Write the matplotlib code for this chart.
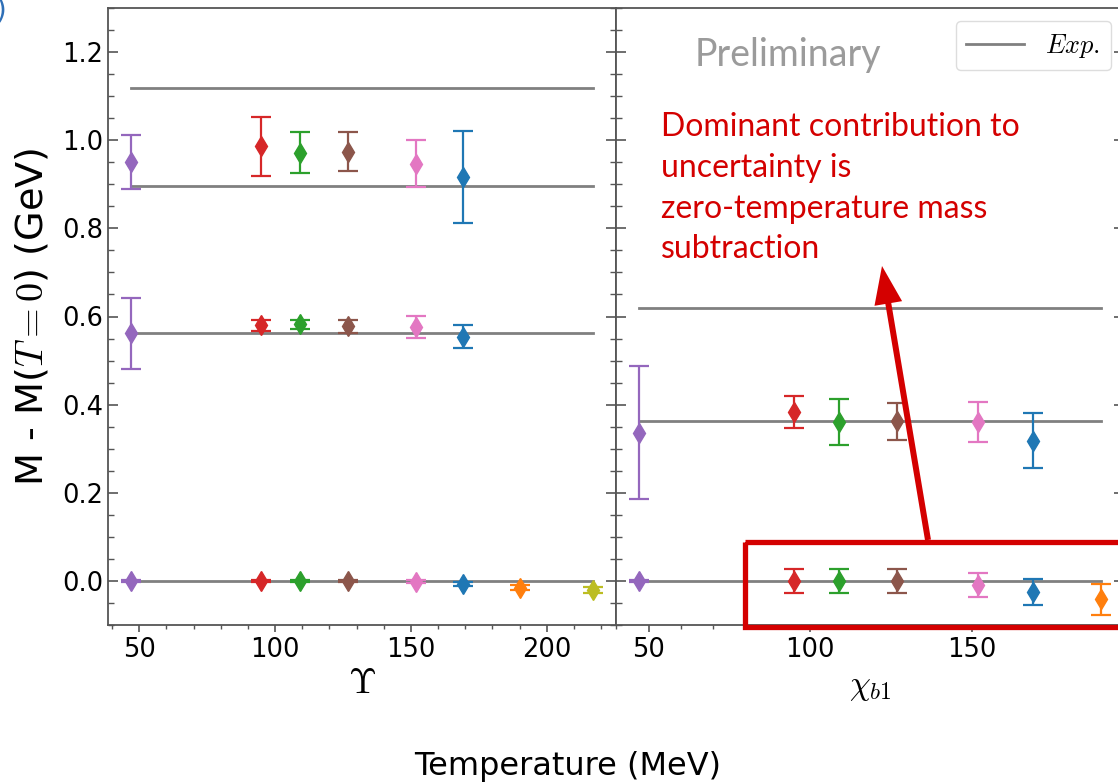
import matplotlib
matplotlib.use("Agg")
import matplotlib.pyplot as plt
from matplotlib.patches import Rectangle, FancyArrow
from matplotlib.transforms import Affine2D
from matplotlib.ticker import MultipleLocator

plt.rcParams["mathtext.fontset"] = "cm"
plt.rcParams["font.family"] = "DejaVu Sans"

# Temperatures of the ensembles (MeV) and the colour used for each
temperatures = [47, 95, 109, 127, 152, 169, 190, 217]
temp_colors = ["#9467bd", "#d62728", "#2ca02c", "#8c564b",
               "#e377c2", "#1f77b4", "#ff7f0e", "#bcbd22"]

# Upsilon channel: mass differences (GeV) with errors
ups_1S = [0.000, 0.000, 0.000, 0.000, -0.002, -0.007, -0.015, -0.020]
ups_1S_err = [0.002, 0.002, 0.002, 0.002, 0.003, 0.004, 0.005, 0.0065]
ups_2S = [0.562, 0.580, 0.582, 0.578, 0.576, 0.554]
ups_2S_err = [0.080, 0.012, 0.010, 0.015, 0.025, 0.026]
ups_3S = [0.951, 0.986, 0.972, 0.974, 0.947, 0.917]
ups_3S_err = [0.061, 0.067, 0.046, 0.044, 0.053, 0.104]
ups_exp = [0.0, 0.563, 0.895, 1.119]

# chi_b1 channel
chi_1P = [0.000, 0.000, 0.000, 0.000, -0.009, -0.025, -0.042]
chi_1P_err = [0.002, 0.028, 0.027, 0.027, 0.028, 0.030, 0.036]
chi_2P = [0.336, 0.383, 0.361, 0.362, 0.361, 0.318]
chi_2P_err = [0.151, 0.037, 0.052, 0.042, 0.046, 0.062]
chi_exp = [0.0, 0.362, 0.620]

W, H = 1118, 784
fig = plt.figure(figsize=(W / 100, H / 100), dpi=100)
px = Affine2D().scale(1 / W, -1 / H).translate(0, 1) + fig.transFigure


def fbox(x0, y0, x1, y1):
    return [x0 / W, 1 - y1 / H, (x1 - x0) / W, (y1 - y0) / H]


axL = fig.add_axes(fbox(108, 8, 616, 625))
axR = fig.add_axes(fbox(616, 8, 1124, 625), sharey=axL)

exp_color = "#808080"
spine_color = "#555555"


def draw_panel(ax, states, exp_vals):
    n_max = max(len(v) for v, _ in states)
    t_used = temperatures[:n_max]
    for i, e in enumerate(exp_vals):
        ax.plot([t_used[0], t_used[-1]], [e, e], color=exp_color, lw=2,
                zorder=1, label="$Exp.$" if i == 0 else None)
    for vals, errs in states:
        for k, (v, e) in enumerate(zip(vals, errs)):
            ax.errorbar(temperatures[k], v, yerr=e, fmt="d",
                        color=temp_colors[k], ms=10, elinewidth=1.6,
                        capsize=7, capthick=1.6, zorder=3)


draw_panel(axL, [(ups_1S, ups_1S_err), (ups_2S, ups_2S_err),
                 (ups_3S, ups_3S_err)], ups_exp)
draw_panel(axR, [(chi_1P, chi_1P_err), (chi_2P, chi_2P_err)], chi_exp)

axL.set_ylim(-0.1, 1.3)
for ax in (axL, axR):
    ax.xaxis.set_major_locator(MultipleLocator(50))
    ax.xaxis.set_minor_locator(MultipleLocator(10))
    ax.yaxis.set_major_locator(MultipleLocator(0.2))
    ax.yaxis.set_minor_locator(MultipleLocator(0.05))
    ax.tick_params(axis="y", which="both", direction="in", left=True,
                   right=True, colors=spine_color, labelcolor="black")
    ax.tick_params(axis="y", which="major", length=7, width=1.2)
    ax.tick_params(axis="y", which="minor", length=4, width=1)
    ax.tick_params(axis="x", which="major", direction="out", length=5,
                   width=1.2, colors=spine_color, labelcolor="black")
    ax.tick_params(axis="x", which="minor", direction="out", length=3,
                   width=1, colors=spine_color)
    ax.tick_params(axis="both", which="major", labelsize=18.5)
    for s in ax.spines.values():
        s.set_color(spine_color)
        s.set_linewidth(1.3)
axR.tick_params(axis="y", labelleft=False)

axL.set_xlim(38.5, 225.5)
axR.set_xlim(39.85, 197.15)

axL.set_xlabel(r"$\Upsilon$", fontsize=26, labelpad=2)
axR.set_xlabel(r"$\chi_{b1}$", fontsize=24, labelpad=5)
axL.set_ylabel(r"M - M($T=0$) (GeV)", fontsize=27.5, labelpad=8)

leg = axR.legend(loc="upper right", fontsize=19, handlelength=2.2,
                 fancybox=True, framealpha=1, edgecolor="#dddddd",
                 borderaxespad=0.5)

fig.text(568 / W, 1 - 767 / H, "Temperature (MeV)", fontsize=23,
         ha="center", va="center")

# Slide annotations
fig.text(788 / W, 1 - 55 / H, "Preliminary", fontsize=27, color="#9b9b9b",
         family="Lato", ha="center", va="center")
note = ("Dominant contribution to\nuncertainty is\n"
        "zero-temperature mass\nsubtraction")
fig.text(661 / W, 1 - 112 / H, note, fontsize=23, color="#d40000",
         family="Lato", ha="left", va="top", linespacing=1.45)

fig.add_artist(Rectangle((745, 542.5), 400, 85, transform=px, fill=False,
                         edgecolor="#d40000", lw=3.8, clip_on=False))
fig.add_artist(FancyArrow(928, 540, -46, -274, width=6, head_width=28,
                          head_length=38, length_includes_head=True,
                          transform=px, color="#d40000", lw=0))
fig.text(-4 / W, 1 - 10 / H, ")", fontsize=20, color="#2e6fb7",
         ha="left", va="center")

fig.savefig("out.png", dpi=100)
